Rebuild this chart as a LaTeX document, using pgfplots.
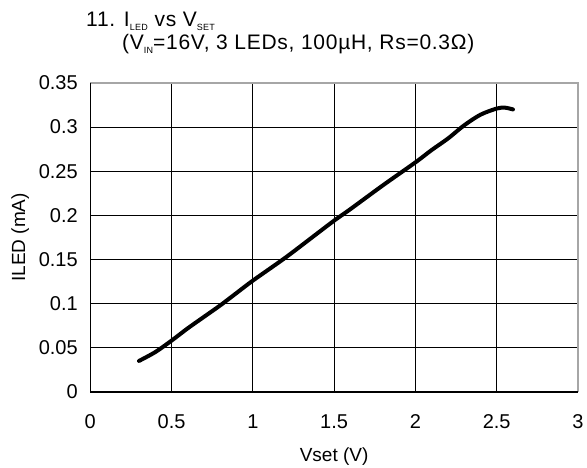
\documentclass[border=0pt]{standalone}
\usepackage{pgfplots}
\pgfplotsset{compat=1.18}
\usepackage{fontspec}
\setmainfont{Liberation Sans}
\newfontfamily\titlefont[LetterSpace=3.5]{Liberation Sans}
\newcommand{\sub}[1]{\raisebox{-0.3ex}{\fontsize{9}{9}\selectfont #1}}
\begin{document}
\begin{tikzpicture}
\useasboundingbox (-90.3pt,-76pt) rectangle (497pt,392pt);
\begin{axis}[
scale only axis,
width=488pt,height=309pt,
xmin=0,xmax=3,ymin=0,ymax=0.35,
xtick={0,0.5,1,1.5,2,2.5,3},
ytick={0,0.05,0.1,0.15,0.2,0.25,0.3,0.35},
xticklabels={0,0.5,1,1.5,2,2.5,3},
yticklabels={0,0.05,0.1,0.15,0.2,0.25,0.3,0.35},
major tick length=0pt,
grid=major,
grid style={black,line width=1.1pt},
axis line style={draw=none},
tick label style={font=\fontsize{20}{24}\selectfont},
xticklabel style={yshift=-19pt},
yticklabel style={xshift=-9pt},
label style={font=\fontsize{19}{23}\selectfont},
xlabel={Vset (V)},
ylabel={ILED (mA)},
xlabel style={at={(rel axis cs:0.5,0)},yshift=-65pt,anchor=center},
ylabel style={at={(rel axis cs:0,0.5)},anchor=center,yshift=70pt},
clip=false,
]
\addplot[black,line width=4pt,smooth,line cap=round] coordinates {
(0.30,0.035) (0.40,0.045) (0.50,0.058) (0.60,0.072) (0.70,0.085)
(0.80,0.098) (0.90,0.112) (1.00,0.126) (1.20,0.152) (1.40,0.180)
(1.50,0.194) (1.60,0.207) (1.80,0.234) (2.00,0.260) (2.10,0.274)
(2.20,0.287) (2.30,0.302) (2.40,0.314) (2.50,0.321) (2.55,0.322)
(2.60,0.320)
};
\draw[gray!70,line width=1.5pt] (rel axis cs:0,1) -- (rel axis cs:1,1) -- (rel axis cs:1,0);
\draw[black,line width=1.5pt] (rel axis cs:0,1) -- (rel axis cs:0,0) -- (rel axis cs:1,0);
\end{axis}
\node[anchor=base west,font=\fontsize{21}{25}\titlefont,inner sep=0pt] at (-4.3pt,365pt) {11. I\sub{LED} vs V\sub{SET}};
\node[anchor=base west,font=\fontsize{21}{25}\titlefont,inner sep=0pt] at (31.7pt,342pt) {(V\sub{IN}=16V, 3 LEDs, 100µH, Rs=0.3Ω)};
\end{tikzpicture}
\end{document}
